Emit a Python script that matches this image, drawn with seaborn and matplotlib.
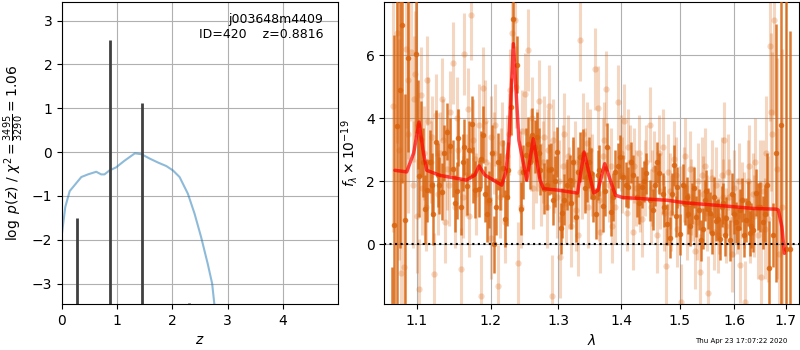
import matplotlib
matplotlib.use("Agg")
import matplotlib.pyplot as plt
import matplotlib.ticker as mticker
import seaborn as sns
import pandas as pd

# p(z) curve (coarse grid)
pz_z = [0.0, 0.06, 0.14, 0.35, 0.47, 0.62, 0.71, 0.77, 0.86, 0.98, 1.13, 1.32, 1.44,
        1.59, 1.74, 1.89, 2.01, 2.13, 2.28, 2.40, 2.52, 2.64, 2.72, 2.76, 2.85]
pz_logp = [-1.85, -1.25, -0.89, -0.57, -0.51, -0.45, -0.51, -0.51, -0.42, -0.35, -0.20,
           -0.03, -0.05, -0.15, -0.24, -0.32, -0.42, -0.57, -0.95, -1.40, -1.94, -2.55,
           -3.0, -3.47, -4.5]

# fine-grid peaks
spike_z = [0.28, 0.87, 1.455, 2.30]
spike_logp = [-1.50, 2.55, 1.11, -3.45]

# model spectrum
model_lam = [1.072, 1.087, 1.096, 1.103, 1.108, 1.113, 1.1305, 1.1665, 1.178, 1.1838,
             1.192, 1.216, 1.222, 1.226, 1.2327, 1.2408, 1.2523, 1.262, 1.272, 1.2775,
             1.300, 1.3296, 1.340, 1.3554, 1.362, 1.373, 1.3904, 1.402, 1.4787, 1.5098,
             1.5685, 1.6375, 1.681, 1.685, 1.692, 1.697]
model_flux = [2.35, 2.30, 2.9, 3.88, 3.0, 2.35, 2.19, 2.04, 2.2, 2.49, 2.2, 1.88, 2.3,
              3.2, 6.36, 3.3, 2.04, 3.35, 2.04, 1.77, 1.72, 1.63, 2.93, 1.63, 1.72, 2.56,
              1.56, 1.49, 1.40, 1.32, 1.24, 1.14, 1.12, 1.09, 0.56, -0.28]

# main grism spectrum (dark)
dark_lam = [1.0680, 1.0714, 1.0752, 1.0786, 1.0811, 1.0849, 1.0892, 1.0995, 1.1030, 1.1056,
            1.1108, 1.1139, 1.1174, 1.1218, 1.1253, 1.1297, 1.1329, 1.1396, 1.1440, 1.1508,
            1.1553, 1.1589, 1.1631, 1.1668, 1.1736, 1.1783, 1.1843, 1.1899, 1.1946, 1.1983,
            1.2049, 1.2111, 1.2173, 1.2206, 1.2255, 1.2288, 1.2327, 1.2376, 1.2439, 1.2507,
            1.2547, 1.2596, 1.2671, 1.2721, 1.2781, 1.2862, 1.2922, 1.2983, 1.3034, 1.3086,
            1.3178, 1.3230, 1.3271, 1.3334, 1.3376, 1.3440, 1.3503, 1.3588, 1.3642, 1.3706,
            1.3760, 1.3825, 1.3896, 1.3978, 1.4033, 1.4116, 1.4200, 1.4256, 1.4340, 1.4413,
            1.4481, 1.4567, 1.4642, 1.4699, 1.4769, 1.4826, 1.4902, 1.4955, 1.5013, 1.5090,
            1.5150, 1.5227, 1.5299, 1.5372, 1.5450, 1.5511, 1.5590, 1.5652, 1.5726, 1.5788,
            1.5850, 1.5912, 1.5987, 1.6069, 1.6151, 1.6215, 1.6291, 1.6355, 1.6420, 1.6497,
            1.6582, 1.6667, 1.6745, 1.6811, 1.6911, 1.7011, 1.7078]
dark_flux = [-4.0, 0.63, 3.77, 4.90, 6.94, 0.77, 5.92, 6.04, 2.17, 3.35,
             1.11, 1.72, 2.62, 0.98, 3.25, 1.88, 1.67, 3.57, 3.11, 1.30,
             3.39, 1.19, 3.09, 1.85, 3.81, 1.74, 1.77, 3.48, 0.98, 1.42,
             0.01, 2.62, 2.41, 0.82, 2.35, 4.36, 7.13, 5.70, 1.14, 2.85,
             3.18, 3.46, 3.41, 2.37, 1.77, 2.37, 1.42, 2.93, 0.51, 1.42,
             2.04, 2.62, 0.88, 2.77, 2.86, 2.14, 2.25, 0.98, 2.35, 1.21,
             3.09, 1.03, 2.30, 2.77, 2.14, 1.82, 2.19, 1.51, 1.82, 2.25,
             1.40, 1.88, 2.25, 1.61, 0.64, 0.22, 2.51, 1.82, 0.33, 1.28,
             0.98, 1.30, 0.88, 0.14, 1.40, 1.14, 0.35, 0.75, 0.16, 1.30,
             0.85, 0.14, 0.98, 0.51, 1.42, 0.77, 0.35, 0.45, 1.64, 1.19,
             0.98, -0.76, 0.30, 2.90, 3.78, -0.13, -0.13]
dark_err = [3.3, 6.0, 6.0, 5.0, 5.0, 4.0, 3.0, 2.5, 1.3, 1.2,
            1.1, 1.0, 1.0, 1.0, 1.0, 0.9, 0.9, 0.9, 0.9, 0.9,
            0.9, 0.9, 0.9, 0.9, 0.9, 0.9, 0.9, 0.9, 0.9, 0.9,
            0.9, 0.9, 0.9, 0.9, 0.9, 0.9, 0.9, 0.9, 0.85, 0.85,
            0.85, 0.85, 0.8, 0.8, 0.8, 0.8, 0.8, 0.8, 0.8, 0.8,
            0.8, 0.8, 0.8, 0.8, 0.8, 0.8, 0.8, 0.8, 0.8, 0.8,
            0.75, 0.75, 0.7, 0.7, 0.7, 0.65, 0.65, 0.65, 0.65, 0.65,
            0.65, 0.65, 0.65, 0.65, 0.65, 0.65, 0.65, 0.65, 0.65, 0.65,
            0.65, 0.65, 0.65, 0.65, 0.65, 0.65, 0.65, 0.65, 0.65, 0.65,
            0.65, 0.65, 0.65, 0.65, 0.7, 0.7, 0.7, 0.7, 0.75, 0.8,
            0.9, 1.5, 1.0, 4.1, 8.0, 9.0, 6.9]

# dark points from the second half-pixel set
dark2_lam = [1.1010, 1.1080, 1.1195, 1.1275, 1.1365, 1.1475, 1.1530, 1.1610, 1.1700, 1.1760,
             1.1870, 1.1925, 1.2020, 1.2080, 1.2140, 1.2230, 1.2470, 1.2570, 1.2640, 1.2700,
             1.2820, 1.2890, 1.2950, 1.3060, 1.3130, 1.3200, 1.3300, 1.3410, 1.3470, 1.3540,
             1.3620, 1.3730, 1.3860, 1.3940, 1.4080, 1.4160, 1.4300, 1.4380, 1.4530, 1.4600,
             1.4730, 1.4860, 1.4930, 1.5050, 1.5120, 1.5190, 1.5260, 1.5340, 1.5410, 1.5480,
             1.5550, 1.5620, 1.5690, 1.5760, 1.5820, 1.5950, 1.6030, 1.6110, 1.6180, 1.6260,
             1.6320, 1.6450, 1.6540, 1.6620]
dark2_flux = [3.8, 2.6, 1.9, 2.2, 2.9, 2.4, 1.7, 2.6, 3.0, 2.2,
              2.7, 1.6, 2.9, 1.2, 2.0, 1.5, 2.3, 2.6, 3.1, 2.9,
              1.9, 2.4, 2.0, 1.0, 1.9, 1.3, 2.3, 1.8, 2.6, 1.5,
              2.2, 1.7, 1.5, 2.5, 1.9, 2.6, 1.3, 2.0, 1.1, 2.6,
              1.2, 1.6, 0.9, 1.9, 1.5, 0.6, 1.8, 1.1, 0.5, 1.7,
              1.0, 1.5, 0.8, 1.2, 0.3, 1.6, 0.7, 1.1, 0.3, 1.3,
              0.6, 1.2, 0.7, 1.9]
dark2_err = [1.4, 1.1, 1.0, 1.0, 0.9, 0.9, 0.9, 0.9, 0.9, 0.9,
             0.9, 0.9, 0.9, 0.9, 0.9, 0.9, 0.85, 0.85, 0.85, 0.8,
             0.8, 0.8, 0.8, 0.8, 0.8, 0.8, 0.8, 0.8, 0.8, 0.8,
             0.8, 0.8, 0.75, 0.7, 0.7, 0.65, 0.65, 0.65, 0.65, 0.65,
             0.65, 0.65, 0.65, 0.65, 0.65, 0.65, 0.65, 0.65, 0.65, 0.65,
             0.65, 0.65, 0.65, 0.65, 0.65, 0.65, 0.65, 0.65, 0.7, 0.7,
             0.7, 0.75, 0.85, 1.0]

# second spectrum (light)
light_lam = [1.0700, 1.0745, 1.0770, 1.0800, 1.0830, 1.0860, 1.0890, 1.0920, 1.0950, 1.0975,
             1.1000, 1.1035, 1.1060, 1.1090, 1.1120, 1.1150, 1.1180, 1.1220, 1.1250, 1.1280,
             1.1310, 1.1340, 1.1370, 1.1400, 1.1440, 1.1480, 1.1510, 1.1550, 1.1590, 1.1630,
             1.1660, 1.1700, 1.1725, 1.1760, 1.1800, 1.1840, 1.1870, 1.1900, 1.1940, 1.1980,
             1.2010, 1.2050, 1.2100, 1.2130, 1.2170, 1.2200, 1.2240, 1.2280, 1.2310, 1.2350,
             1.2390, 1.2420, 1.2460, 1.2499, 1.2547, 1.2580, 1.2620, 1.2660, 1.2700, 1.2740,
             1.2780, 1.2820, 1.2860, 1.2900, 1.2940, 1.2980, 1.3030, 1.3070, 1.3110, 1.3150,
             1.3190, 1.3230, 1.3270, 1.3300, 1.3340, 1.3380, 1.3420, 1.3460, 1.3500, 1.3570,
             1.3615, 1.3660, 1.3700, 1.3750, 1.3800, 1.3850, 1.3940, 1.3990, 1.4040, 1.4090,
             1.4140, 1.4190, 1.4240, 1.4290, 1.4340, 1.4390, 1.4480, 1.4500, 1.4550, 1.4600,
             1.4650, 1.4700, 1.4750, 1.4800, 1.4850, 1.4900, 1.4950, 1.5030, 1.5080, 1.5130,
             1.5180, 1.5230, 1.5280, 1.5330, 1.5360, 1.5410, 1.5460, 1.5510, 1.5560, 1.5610,
             1.5660, 1.5710, 1.5760, 1.5800, 1.5850, 1.5900, 1.5950, 1.6000, 1.6050, 1.6100,
             1.6150, 1.6200, 1.6250, 1.6300, 1.6350, 1.6400, 1.6450, 1.6500, 1.6550, 1.6600,
             1.6640, 1.6680, 1.6720, 1.6770, 1.6820, 1.6870, 1.6920]
light_flux = [4.4, 6.7, 3.0, -0.9, -0.7, 6.2, 5.2, 6.1, 1.9, 5.4,
              0.9, -1.41, 4.75, 2.9, 1.2, 3.9, 2.6, -0.95, 4.1, 1.6,
              2.9, 3.3, 0.7, 2.4, 4.2, 5.75, 1.2, 3.0, -0.79, 6.04,
              2.2, 0.9, 7.26, 3.3, 1.6, 3.8, -1.63, 4.97, 2.6, 1.3,
              3.4, 2.9, -1.31, 1.5, 3.2, 0.7, 2.8, 4.9, 6.7, 7.1,
              -0.6, 2.3, 3.6, 4.78, 6.17, 3.0, 1.8, 2.6, 4.55, 1.9,
              3.4, 1.2, 4.4, -1.63, 2.3, 1.5, -0.39, 2.5, 1.3, 2.8,
              0.6, 2.0, 1.1, 0.3, 6.47, 3.5, 2.4, 1.2, 3.0, 5.57,
              4.34, 0.4, 2.8, 4.94, 1.9, 0.6, 4.5, 2.9, 3.9, 1.0,
              2.6, 0.4, 1.8, 2.9, 0.8, 2.1, 3.8, 1.2, 2.4, 0.3,
              1.7, 3.1, -0.69, 2.3, 1.0, 2.7, 0.5, -1.81, 1.9, 0.7,
              2.4, 1.3, -0.2, 2.0, -0.86, 1.6, 2.5, -1.55, 1.2, 0.4,
              1.9, 0.9, 2.2, 3.32, 0.6, 1.5, -0.3, 1.8, 0.9, -0.65,
              1.4, -1.81, 2.0, 0.7, 1.6, 2.6, 0.3, -1.02, 1.7, 2.9,
              0.8, 6.3, 3.5, 7.1, 2.4, -0.3, 1.2]
light_err = [4.0, 3.5, 3.5, 3.0, 3.0, 2.5, 2.5, 2.2, 2.0, 2.0,
             1.8, 1.6, 1.5, 1.5, 1.4, 1.4, 1.3, 1.3, 1.3, 1.3,
             1.3, 1.3, 1.3, 1.3, 1.3, 1.3, 1.3, 1.3, 1.3, 1.3,
             1.3, 1.3, 1.4, 1.3, 1.3, 1.3, 1.3, 1.3, 1.3, 1.3,
             1.3, 1.3, 1.3, 1.3, 1.3, 1.3, 1.3, 1.3, 1.3, 1.3,
             1.3, 1.3, 1.3, 1.3, 1.3, 1.3, 1.3, 1.3, 1.3, 1.3,
             1.3, 1.3, 1.3, 1.3, 1.3, 1.3, 1.3, 1.3, 1.3, 1.3,
             1.3, 1.3, 1.3, 1.3, 1.3, 1.3, 1.3, 1.3, 1.3, 1.3,
             1.3, 1.3, 1.2, 1.2, 1.2, 1.2, 1.2, 1.2, 1.2, 1.2,
             1.2, 1.2, 1.2, 1.2, 1.2, 1.2, 1.2, 1.2, 1.2, 1.2,
             1.2, 1.2, 1.2, 1.2, 1.2, 1.2, 1.2, 1.2, 1.2, 1.2,
             1.2, 1.2, 1.2, 1.2, 1.2, 1.2, 1.2, 1.2, 1.2, 1.2,
             1.2, 1.2, 1.2, 1.2, 1.2, 1.2, 1.2, 1.2, 1.2, 1.2,
             1.2, 1.3, 1.3, 1.3, 1.3, 1.4, 1.4, 1.5, 1.6, 1.8,
             2.0, 2.4, 2.6, 3.0, 3.5, 4.0, 5.0]

light2_lam = [1.0885, 1.0960, 1.1070, 1.1130, 1.1200, 1.1330, 1.1420, 1.1530, 1.1610, 1.1680,
              1.1780, 1.1920, 1.2000, 1.2070, 1.2150, 1.2260, 1.2370, 1.2440, 1.2600, 1.2680,
              1.2760, 1.2840, 1.2920, 1.3010, 1.3090, 1.3170, 1.3250, 1.3360, 1.3440, 1.3530,
              1.3640, 1.3720, 1.3830, 1.3900, 1.4010, 1.4110, 1.4220, 1.4320, 1.4420, 1.4520,
              1.4630, 1.4720, 1.4830, 1.4930, 1.5000, 1.5100, 1.5200, 1.5300, 1.5390, 1.5490,
              1.5590, 1.5690, 1.5780, 1.5880, 1.5980, 1.6080, 1.6180, 1.6280, 1.6380, 1.6480,
              1.6580, 1.6700]
light2_flux = [3.5, 4.6, 1.8, 5.2, 3.4, 4.6, 1.9, 4.0, 1.5, 4.3,
               2.7, 3.9, 0.2, 3.8, 2.4, 3.5, 5.0, 1.2, 4.0, 3.0,
               2.6, 3.0, 3.3, 2.0, 3.5, 1.8, 2.6, 2.1, 3.2, 2.2,
               1.4, 3.3, 2.5, 1.2, 2.2, 3.1, 2.5, 1.6, 2.6, 1.8,
               2.9, 1.0, 1.7, 2.2, 1.3, 2.8, 1.5, 0.7, 2.2, 1.0,
               2.1, 0.3, 1.5, 2.3, 0.8, 2.0, 1.1, 2.5, 0.9, 1.9,
               0.5, 4.2]
light2_err = [2.5, 2.0, 1.5, 1.4, 1.3, 1.3, 1.3, 1.3, 1.3, 1.3,
              1.3, 1.3, 1.3, 1.3, 1.3, 1.3, 1.3, 1.3, 1.3, 1.3,
              1.3, 1.3, 1.3, 1.3, 1.3, 1.3, 1.3, 1.3, 1.3, 1.3,
              1.3, 1.2, 1.2, 1.2, 1.2, 1.2, 1.2, 1.2, 1.2, 1.2,
              1.2, 1.2, 1.2, 1.2, 1.2, 1.2, 1.2, 1.2, 1.2, 1.2,
              1.2, 1.2, 1.2, 1.2, 1.2, 1.2, 1.2, 1.3, 1.3, 1.4,
              1.6, 2.5]

sns.set_style("ticks", {"axes.edgecolor": "black", "grid.color": "#b0b0b0",
                        "xtick.color": "black", "ytick.color": "black",
                        "axes.labelcolor": "black", "text.color": "black"})
plt.rcParams["font.family"] = ["DejaVu Sans"]

fig = plt.figure(figsize=(8, 3.5), dpi=100)
ax1 = fig.add_axes([0.0775, 0.131, 0.345, 0.863])
ax2 = fig.add_axes([0.4805, 0.131, 0.5185, 0.863])

# left panel: p(z)
pz_df = pd.DataFrame({"z": pz_z, "logp": pz_logp})
sns.lineplot(data=pz_df, x="z", y="logp", ax=ax1, color="tab:blue", alpha=0.5,
             lw=1.5, sort=False, estimator=None)
ax1.vlines(spike_z, -10, spike_logp, color="0.25", lw=2)
ax1.set_xlim(0, 5.0)
ax1.set_ylim(-3.47, 3.42)
ax1.set_xticks([0, 1, 2, 3, 4])
ax1.set_yticks([-3, -2, -1, 0, 1, 2, 3])
ax1.grid(True, color="#b0b0b0", lw=0.8)
ax1.set_axisbelow(True)
ax1.set_xlabel(r"$z$")
ax1.set_ylabel(r"$\log\ p(z)$ / $\chi^2=\frac{3495}{3290}=1.06$")
ax1.text(0.946, 0.965, "j003648m4409\nID=420    z=0.8816", transform=ax1.transAxes,
         ha="right", va="top", fontsize=9)

# right panel: spectrum
orange = "#d9640f"
ax2.errorbar(light_lam + light2_lam, light_flux + light2_flux, yerr=light_err + light2_err,
             fmt="o", color=orange, alpha=0.26, ms=4.5, elinewidth=2.2, mec="none", zorder=2)
ax2.errorbar(dark_lam + dark2_lam, dark_flux + dark2_flux, yerr=dark_err + dark2_err,
             fmt="o", color=orange, alpha=0.85, ms=4, elinewidth=1.8, mec="none", zorder=3)
model_df = pd.DataFrame({"lam": model_lam, "flux": model_flux})
sns.lineplot(data=model_df, x="lam", y="flux", ax=ax2, color="red", alpha=0.7,
             lw=2.5, sort=False, estimator=None, zorder=4)
ax2.axhline(0, color="k", ls=":", lw=1.5, zorder=5)
ax2.set_xscale("log")
ax2.set_xlim(1.0588, 1.7269)
ax2.set_ylim(-1.89, 7.68)
ax2.xaxis.set_minor_locator(mticker.NullLocator())
ax2.set_xticks([1.1, 1.2, 1.3, 1.4, 1.5, 1.6, 1.7])
ax2.set_xticklabels(["1.1", "1.2", "1.3", "1.4", "1.5", "1.6", "1.7"])
ax2.set_yticks([0, 2, 4, 6])
ax2.grid(True, color="#b0b0b0", lw=0.8)
ax2.set_axisbelow(True)
ax2.set_xlabel(r"$\lambda$")
ax2.set_ylabel(r"$f_\lambda \times 10^{-19}$")

fig.text(0.984, 0.018, "Thu Apr 23 17:07:22 2020", ha="right", va="bottom", fontsize=5)

fig.savefig("out.png", dpi=100)
